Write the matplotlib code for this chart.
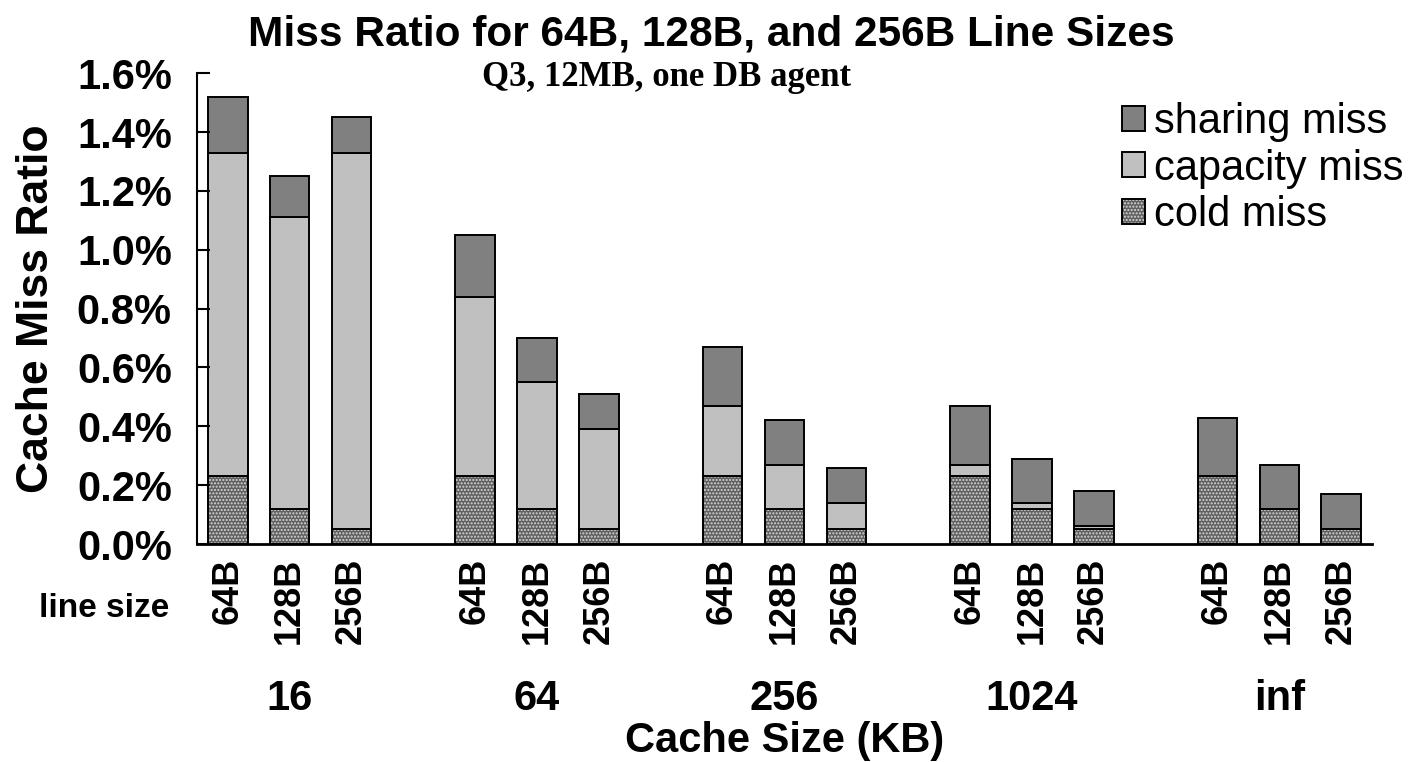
import numpy as np
import matplotlib
matplotlib.use("Agg")
import matplotlib.pyplot as plt
from matplotlib.legend_handler import HandlerTuple
from matplotlib.patches import Patch

# ------------------------------
# data (miss ratio in %)
# ------------------------------
cache_sizes = ["16", "64", "256", "1024", "inf"]
line_sizes = ["64B", "128B", "256B"]

cold = [0.23, 0.12, 0.05,
        0.23, 0.12, 0.05,
        0.23, 0.12, 0.05,
        0.23, 0.12, 0.05,
        0.23, 0.12, 0.05]
capacity = [1.10, 0.99, 1.28,
            0.61, 0.43, 0.34,
            0.24, 0.15, 0.09,
            0.04, 0.02, 0.01,
            0.00, 0.00, 0.00]
sharing = [0.19, 0.14, 0.12,
           0.21, 0.15, 0.12,
           0.20, 0.15, 0.12,
           0.20, 0.15, 0.12,
           0.20, 0.15, 0.12]

plt.rcParams['font.family'] = ['Liberation Sans', 'DejaVu Sans']
plt.rcParams['hatch.linewidth'] = 1.0

# bar positions: 3 bars per group, one empty slot between groups
x = [4 * g + j for g in range(len(cache_sizes)) for j in range(len(line_sizes))]
cold = np.array(cold)
capacity = np.array(capacity)
sharing = np.array(sharing)

fig = plt.figure(figsize=(14.16, 7.62), dpi=100)
ax = fig.add_axes([0.139, 0.286, 0.830, 0.618])

w = 0.64
lw = 1.4
cold_face = "#606060"
cold_hatch = "....."
# cold miss: dark gray with white dotted hatch, then black outline on top
ax.bar(x, cold, w, color=cold_face, edgecolor="#d8d8d8", hatch=cold_hatch, linewidth=0)
ax.bar(x, cold, w, fill=False, edgecolor="black", linewidth=lw)
ax.bar(x, capacity, w, bottom=cold, color="#c0c0c0", edgecolor="black", linewidth=lw)
ax.bar(x, sharing, w, bottom=cold + capacity, color="#808080", edgecolor="black", linewidth=lw)

ax.set_xlim(-0.5, 18.5)
ax.set_ylim(0, 1.6)
ax.set_yticks(np.arange(0, 1.61, 0.2))
ax.set_yticklabels(["%.1f%%" % v for v in np.arange(0, 1.61, 0.2)],
                   fontsize=30, fontweight="bold")
ax.tick_params(axis="y", direction="in", length=9, width=1.5, pad=18)

ax.set_xticks(x)
ax.set_xticklabels(line_sizes * len(cache_sizes), rotation=90,
                   fontsize=26, fontweight="bold")
ax.tick_params(axis="x", length=0, pad=10)

for s in ["top", "right"]:
    ax.spines[s].set_visible(False)
ax.spines["left"].set_linewidth(1.5)
ax.spines["bottom"].set_linewidth(2)

ax.set_ylabel("Cache Miss Ratio", fontsize=32, fontweight="bold", labelpad=14)

# group labels below line sizes
for g, name in enumerate(cache_sizes):
    ax.text(4 * g + 1, -0.33, name, transform=ax.get_xaxis_transform(),
            ha="center", va="center", fontsize=30, fontweight="bold")
ax.text(-0.079, -0.136, "line size", transform=ax.transAxes,
        ha="center", va="center", fontsize=24, fontweight="bold")
ax.text(0.5, -0.418, "Cache Size (KB)", transform=ax.transAxes,
        ha="center", va="center", fontsize=30, fontweight="bold")

fig.text(0.502, 0.955, "Miss Ratio for 64B, 128B, and 256B Line Sizes",
         ha="center", va="center", fontsize=30.5, fontweight="bold")
ax.text(0.40, 0.99, "Q3, 12MB, one DB agent", transform=ax.transAxes,
        ha="center", va="center", fontsize=25, fontweight="bold",
        family=["Liberation Serif", "DejaVu Serif"])

# legend
h_share = Patch(facecolor="#808080", edgecolor="black", linewidth=lw)
h_cap = Patch(facecolor="#c0c0c0", edgecolor="black", linewidth=lw)
h_cold = (Patch(facecolor=cold_face, edgecolor="#d8d8d8", hatch=cold_hatch, linewidth=0),
          Patch(fill=False, edgecolor="black", linewidth=lw))
fig.legend([h_share, h_cap, h_cold], ["sharing miss", "capacity miss", "cold miss"],
           loc="upper left", bbox_to_anchor=(0.778, 0.893), frameon=False,
           fontsize=30, handlelength=0.55, handleheight=0.55, handletextpad=0.2,
           labelspacing=0.15, borderpad=0,
           handler_map={tuple: HandlerTuple(ndivide=1, pad=0)})

fig.savefig("out.png", dpi=100)
